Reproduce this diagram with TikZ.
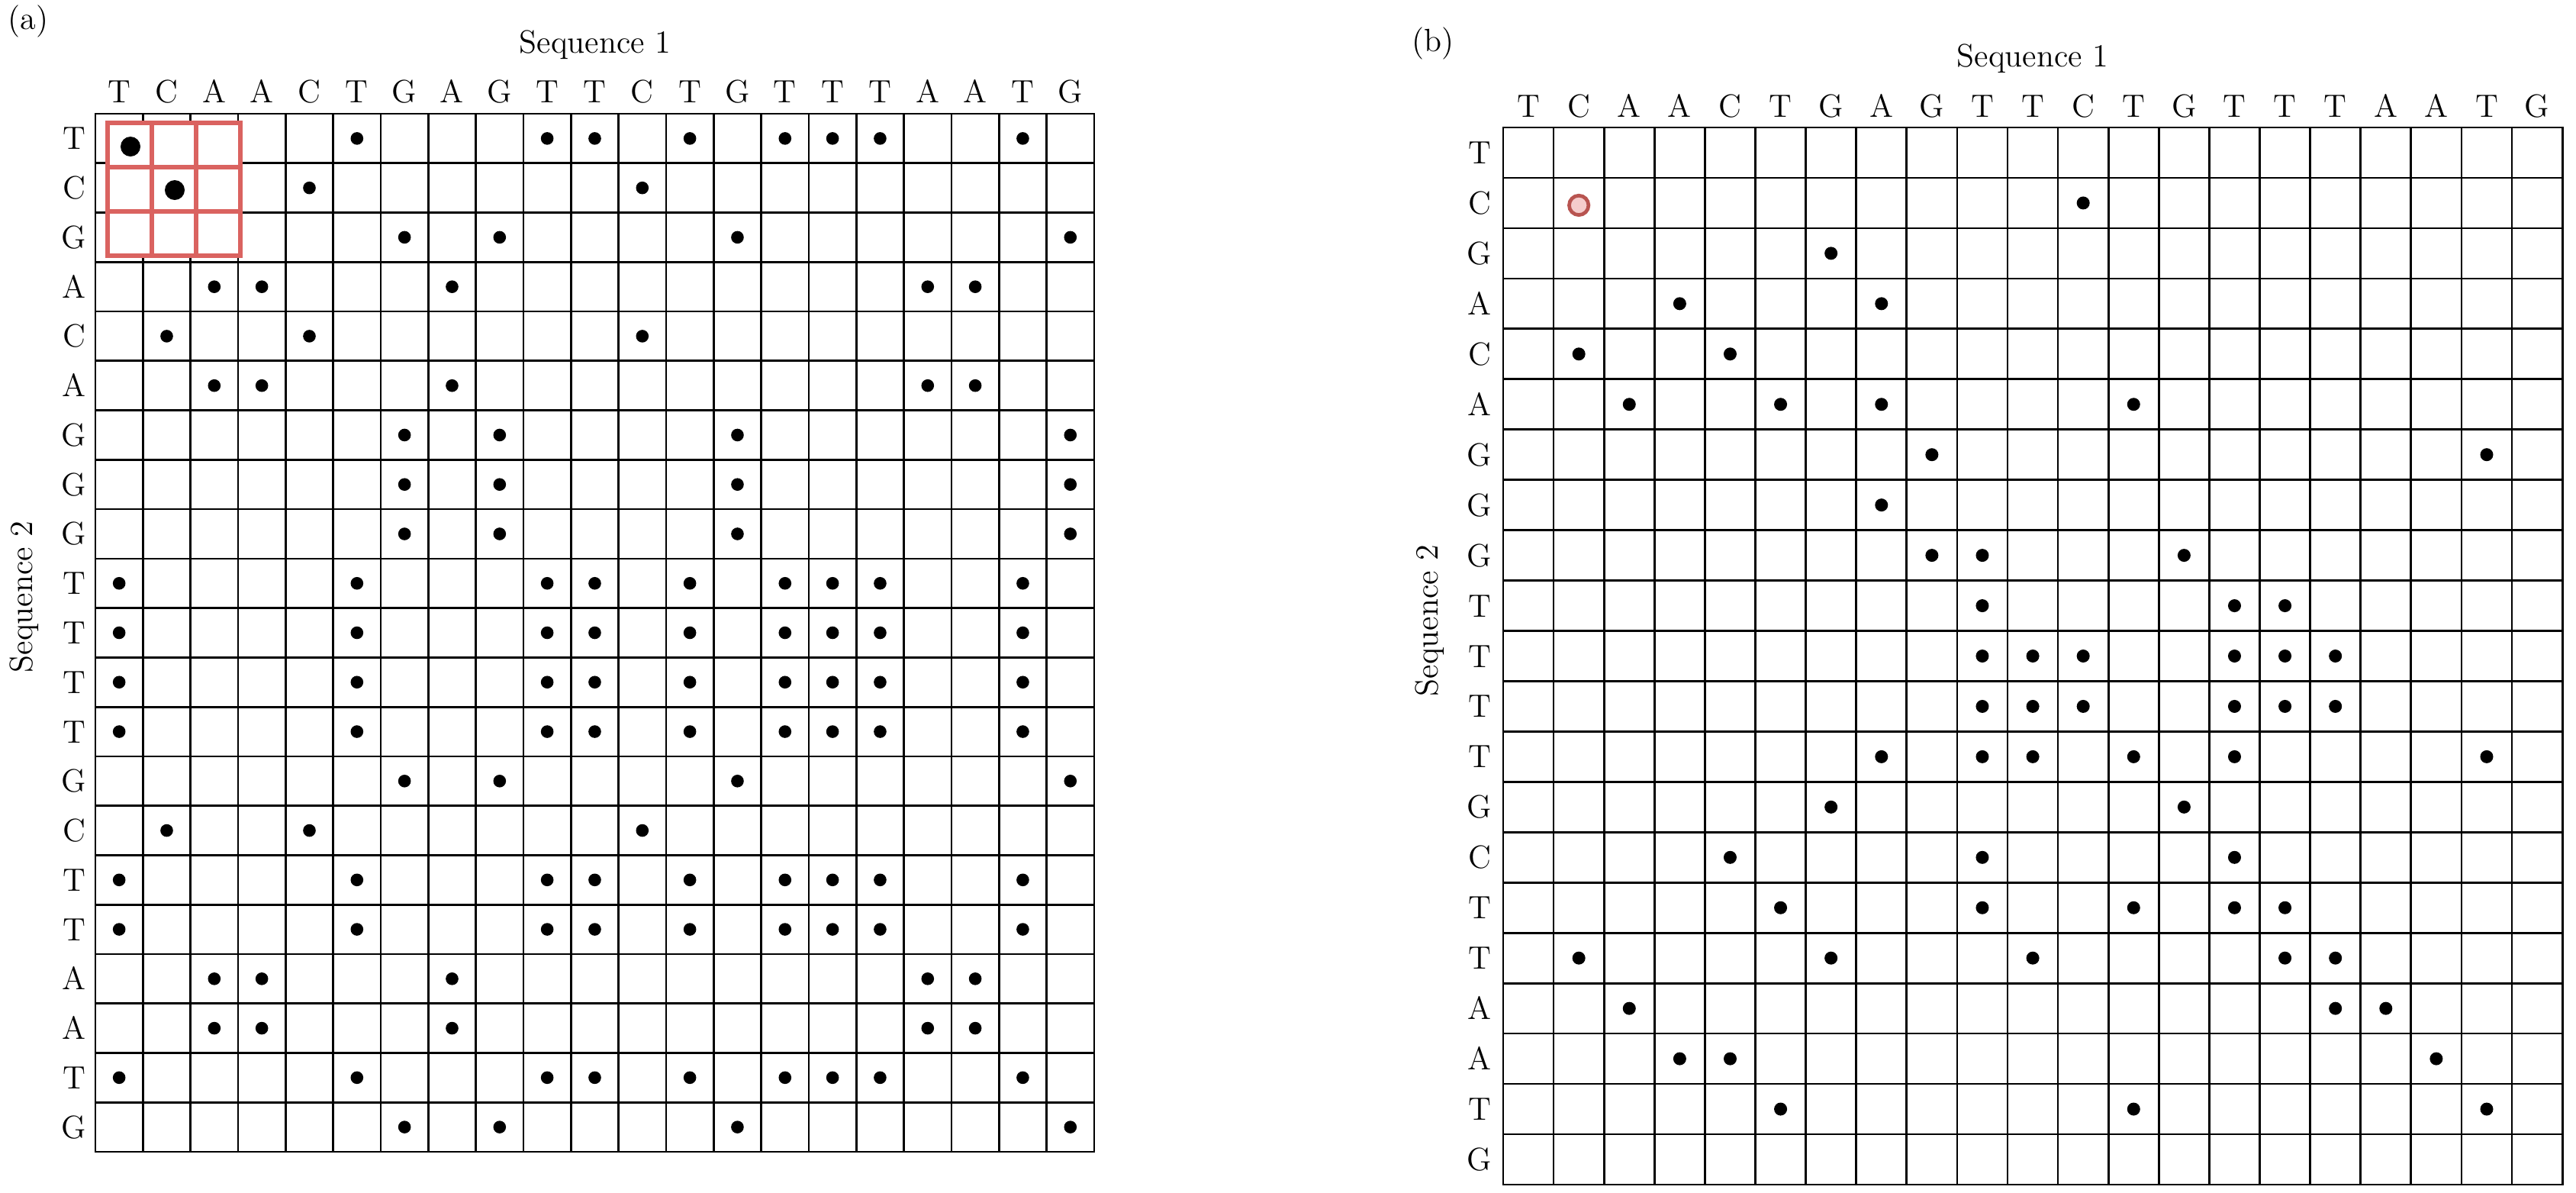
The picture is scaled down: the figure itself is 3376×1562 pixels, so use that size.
\documentclass[tikz,border=0pt]{standalone}
\usepackage{fontspec}
\definecolor{boxred}{RGB}{218,99,96}
\definecolor{ringred}{RGB}{184,84,80}
\definecolor{ringfill}{RGB}{245,204,204}
\begin{document}
\begin{tikzpicture}[x=0.01cm,y=-0.01cm,
  gridline/.style={line width=0.77pt, black},
  lab/.style={font=\fontsize{12}{14}\selectfont, inner sep=0pt, anchor=base},
  redline/.style={line width=1.6pt, boxred},
]
\useasboundingbox[fill=white] (0,0) rectangle (3376,1562);
\def\pax{125}\def\pay{149}\def\paw{62.33}\def\pah{64.76}
\def\pbx{1970}\def\pby{167}\def\pbw{66.1}\def\pbh{65.95}

% ---------------- panel (a) ----------------
\node[lab] (alabel) at (37,38) {(a)};
\node[lab] (aseq1) at (780,69) {Sequence 1};
\node[lab, rotate=90] (aseq2) at (42,782) {Sequence 2};
\foreach \l [count=\i] in {T,C,A,A,C,T,G,A,G,T,T,C,T,G,T,T,T,A,A,T,G}
  \node[lab] (ac\i) at ({\pax+(\i-0.5)*\paw},134) {\l};
\foreach \l [count=\i] in {T,C,G,A,C,A,G,G,G,T,T,T,T,G,C,T,T,A,A,T,G}
  \node[lab] (ar\i) at (97,{\pay+(\i-0.5)*\pah+14.5}) {\l};
\foreach \i in {0,...,21} {
  \draw[gridline] ({\pax+\i*\paw},{\pay-1}) -- ({\pax+\i*\paw},{\pay+21*\pah+1});
  \draw[gridline] ({\pax-1},{\pay+\i*\pah}) -- ({\pax+21*\paw+1},{\pay+\i*\pah});
}
\foreach \r/\cols in {1/{6,10,11,13,15,16,17,20}, 2/{5,12}, 3/{7,9,14,21},
  4/{3,4,8,18,19}, 5/{2,5,12}, 6/{3,4,8,18,19}, 7/{7,9,14,21}, 8/{7,9,14,21},
  9/{7,9,14,21}, 10/{1,6,10,11,13,15,16,17,20}, 11/{1,6,10,11,13,15,16,17,20},
  12/{1,6,10,11,13,15,16,17,20}, 13/{1,6,10,11,13,15,16,17,20}, 14/{7,9,14,21},
  15/{2,5,12}, 16/{1,6,10,11,13,15,16,17,20}, 17/{1,6,10,11,13,15,16,17,20},
  18/{3,4,8,18,19}, 19/{3,4,8,18,19}, 20/{1,6,10,11,13,15,16,17,20}, 21/{7,9,14,21}}
  \foreach \c in \cols
    \fill ({\pax+(\c-0.5)*\paw},{\pay+(\r-0.5)*\pah}) circle[radius=0.083cm];
% red 3x3 box
\fill[white] (138,158) rectangle (318,338);
\foreach \v in {199,257} {
  \draw[redline] (\v,161) -- (\v,335);
  \draw[redline] (141,{\v+20}) -- (315,{\v+20});
}
\draw[redline] (141,161) rectangle (315,335);
\fill (171,192) circle[radius=0.13cm];
\fill (229,249) circle[radius=0.13cm];

% ---------------- panel (b) ----------------
\node[lab] (blabel) at (1878,67) {(b)};
\node[lab] (bseq1) at (2664,87) {Sequence 1};
\node[lab, rotate=90] (bseq2) at (1884,813) {Sequence 2};
\foreach \l [count=\i] in {T,C,A,A,C,T,G,A,G,T,T,C,T,G,T,T,T,A,A,T,G}
  \node[lab] (bc\i) at ({\pbx+(\i-0.5)*\pbw},153) {\l};
\foreach \l [count=\i] in {T,C,G,A,C,A,G,G,G,T,T,T,T,G,C,T,T,A,A,T,G}
  \node[lab] (br\i) at (1939,{\pby+(\i-0.5)*\pbh+14.5}) {\l};
\foreach \i in {0,...,21} {
  \draw[gridline] ({\pbx+\i*\pbw},{\pby-1}) -- ({\pbx+\i*\pbw},{\pby+21*\pbh+1});
  \draw[gridline] ({\pbx-1},{\pby+\i*\pbh}) -- ({\pbx+21*\pbw+1},{\pby+\i*\pbh});
}
\foreach \r/\cols in {2/{12}, 3/{7}, 4/{4,8}, 5/{2,5}, 6/{3,6,8,13}, 7/{9,20},
  8/{8}, 9/{9,10,14}, 10/{10,15,16}, 11/{10,11,12,15,16,17},
  12/{10,11,12,15,16,17}, 13/{8,10,11,13,15,20}, 14/{7,14}, 15/{5,10,15},
  16/{6,10,13,15,16}, 17/{2,7,11,16,17}, 18/{3,17,18}, 19/{4,5,19}, 20/{6,13,20}}
  \foreach \c in \cols
    \fill ({\pbx+(\c-0.5)*\pbw},{\pby+(\r-0.5)*\pbh}) circle[radius=0.085cm];
\filldraw[fill=ringfill, draw=ringred, line width=1.34pt]
  ({\pbx+1.5*\pbw},{\pby+1.5*\pbh+3}) circle[radius=0.127cm];
\end{tikzpicture}
\end{document}
